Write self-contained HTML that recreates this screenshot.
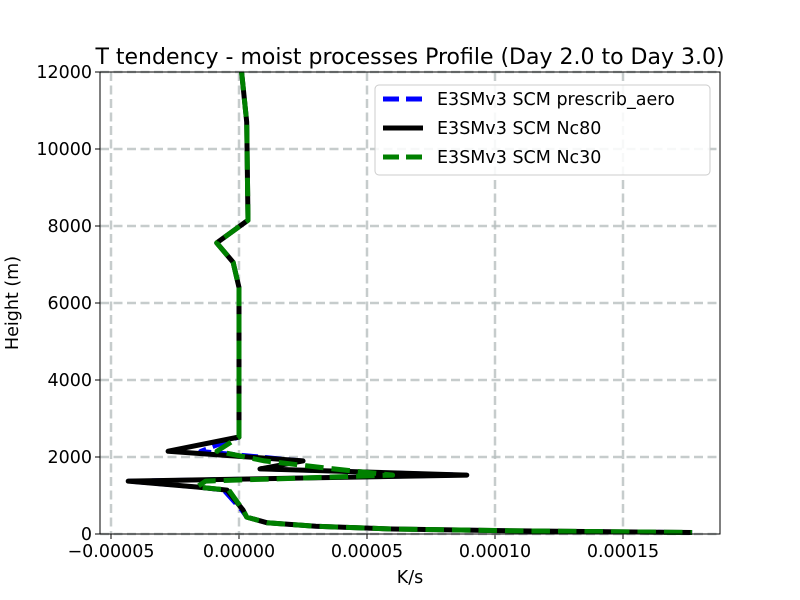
<!DOCTYPE html>
<html><head><meta charset="utf-8"><style>
body{margin:0;background:#fff;font-family:"DejaVu Sans","Liberation Sans",sans-serif}
</style></head><body>
<svg id="c" width="800" height="600" xmlns="http://www.w3.org/2000/svg" style="position:absolute;left:0;top:0;font-family:'DejaVu Sans','Liberation Sans',sans-serif"></svg>
<script>
const heights=[12000,10700,8150,7560,7060,6400,2520,2150,1900,1690,1530,1375,1220,1140,620,440,290,200,130,80,40];
const black=[0.1,0.3,0.35,-0.87,-0.23,0,0,-2.77,2.5,0.82,8.9,-4.33,-1.65,-0.47,0.16,0.3,1.1,3,6,11,17.7];
const blue=[0.1,0.3,0.35,-0.87,-0.23,0,0,-1.5,2.5,0.82,8.9,-4.4,-1.65,-0.6,0.1,0.3,1.1,3,6,11,17.7];
const green=[0.1,0.3,0.35,-0.87,-0.23,0,0,-0.86,1.0,3.7,6.0,-1.3,-1.65,-0.4,0.16,0.3,1.1,3,6,11,17.7];
const xticks=[-5,0,5,10,15];
const xtickLabels=["\u22120.00005","0.00000","0.00005","0.00010","0.00015"];
const yticks=[0,2000,4000,6000,8000,10000,12000];
const L=100,R=720,T=72,B=534;
const X=v=>239+v*25.6;
const Y=h=>B-(h/12000)*(B-T);
const svg=document.getElementById('c');
const NS='http://www.w3.org/2000/svg';
function mk(t,a,txt){const e=document.createElementNS(NS,t);for(const k in a)e.setAttribute(k,a[k]);if(txt!==undefined)e.textContent=txt;svg.appendChild(e);return e;}
xticks.forEach((t,i)=>{const x=X(t);
 const g=mk('line',{x1:x,x2:x,y1:T,y2:B,stroke:'#b8c0c0','stroke-width':2.5,'stroke-dasharray':'9,4.5','opacity':0.8});
 
 
 const tk=mk('line',{x1:x,x2:x,y1:B,y2:B+5,stroke:'#000','stroke-width':1});
 
 
 const l=mk('text',{x:x,y:B+23,'font-size':17.5,'text-anchor':'middle'},xtickLabels[i]);
 
 
});
yticks.forEach(t=>{const y=Y(t);
 const g=mk('line',{x1:L,x2:R,y1:y,y2:y,stroke:'#b8c0c0','stroke-width':2.5,'stroke-dasharray':'9,4.5','opacity':0.8});
 
 
 const tk=mk('line',{x1:L-5,x2:L,y1:y,y2:y,stroke:'#000','stroke-width':1});
 
 
 const l=mk('text',{x:L-8,y:y+6,'font-size':17.5,'text-anchor':'end'},String(t));
 
 
});
function series(vals,color,w,dash,name){
 const d=vals.map((v,i)=>(i?'L':'M')+X(v).toFixed(1)+','+Y(heights[i]).toFixed(1)).join(' ');
 const p=mk('path',{d:d,fill:'none',stroke:color,'stroke-width':w,'stroke-linejoin':'round','stroke-dasharray':dash||'none'});
 
 
}
series(blue,'#0000ff',4.5,'16.5,7','series-prescrib-aero');
series(black,'#000',5,null,'series-nc80');
series(green,'#008000',5,'18.5,8','series-nc30');
const fr=mk('rect',{x:L,y:T,width:R-L,height:B-T,fill:'none',stroke:'#000','stroke-width':1});


</script>
<svg width="800" height="600" style="position:absolute;left:0;top:0;font-family:'DejaVu Sans','Liberation Sans',sans-serif" xmlns="http://www.w3.org/2000/svg">
<text x="410" y="64" font-size="22" text-anchor="middle">T tendency - moist processes Profile (Day 2.0 to Day 3.0)</text>
<text x="410" y="583" font-size="17.5" text-anchor="middle">K/s</text>
<text x="18" y="303" font-size="17.5" text-anchor="middle" transform="rotate(-90 18 303)">Height (m)</text>
<g>
<rect x="375" y="85" width="335" height="90" rx="4" fill="#fff" fill-opacity="0.85" stroke="#ccc"/>
<line x1="383" x2="423" y1="99" y2="99" stroke="#0000ff" stroke-width="5" stroke-dasharray="16,7"/>
<text x="437" y="105" font-size="17.5">E3SMv3 SCM prescrib_aero</text>
<line x1="383" x2="423" y1="128" y2="128" stroke="#000" stroke-width="5"/>
<text x="437" y="134" font-size="17.5">E3SMv3 SCM Nc80</text>
<line x1="383" x2="423" y1="157" y2="157" stroke="#008000" stroke-width="5" stroke-dasharray="16,7"/>
<text x="437" y="163" font-size="17.5">E3SMv3 SCM Nc30</text>
</g>
</svg>
</body></html>
